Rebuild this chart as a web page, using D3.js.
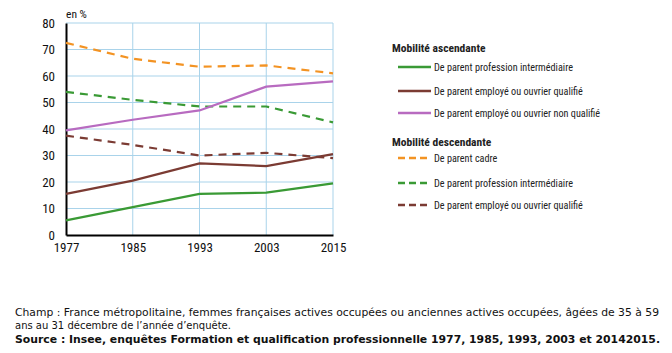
<!DOCTYPE html>
<html>
<head>
<meta charset="utf-8">
<script src="https://cdn.jsdelivr.net/npm/d3@7"></script>
<style>
  body { margin: 0; background: #fff; }
  svg { display: block; }
</style>
</head>
<body>
<div id="chart"></div>
<script>
// data
var years = ["1977", "1985", "1993", "2003", "2015"];
var yTicks = [0, 10, 20, 30, 40, 50, 60, 70, 80];

var ascInter = [5.5, 10.5, 15.5, 16, 19.5];
var ascEmpQual = [15.5, 20.5, 27, 26, 30.5];
var ascEmpNonQual = [39.5, 43.5, 47, 56, 58];
var descCadre = [72.5, 66.5, 63.5, 64, 61];
var descInter = [54, 51, 48.5, 48.5, 42.5];
var descEmpQual = [37.5, 34, 30, 31, 29];

var groups = [
    {title: "Mobilité ascendante", series: [
        {name: "De parent profession intermédiaire", values: ascInter, color: "#3a9a35", dash: null},
        {name: "De parent employé ou ouvrier qualifié", values: ascEmpQual, color: "#7b3b33", dash: null},
        {name: "De parent employé ou ouvrier non qualifié", values: ascEmpNonQual, color: "#b86bc0", dash: null}
    ]},
    {title: "Mobilité descendante", series: [
        {name: "De parent cadre", values: descCadre, color: "#f39323", dash: "8,6"},
        {name: "De parent profession intermédiaire", values: descInter, color: "#3a9a35", dash: "8,6"},
        {name: "De parent employé ou ouvrier qualifié", values: descEmpQual, color: "#7b3b33", dash: "8,6"}
    ]}
];

var narrow = "'Liberation Sans Narrow', 'Arial Narrow', 'Roboto Condensed', sans-serif";

var svg = d3.select("#chart").append("svg")
    .attr("width", 672)
    .attr("height", 353);

var x = d3.scalePoint().domain(years).range([66, 333]);
var y = d3.scaleLinear().domain([0, 80]).range([235, 23]);

// grid
var grid = svg.append("g").attr("id", "grid");
grid.selectAll("line.h").data(yTicks.slice(1)).enter()
    .append("line").attr("class", "h")
    .attr("x1", x("1977")).attr("x2", x("2015"))
    .attr("y1", function (d) { return y(d); })
    .attr("y2", function (d) { return y(d); })
    .attr("stroke", "#a9d3ea").attr("stroke-width", 1);
grid.selectAll("line.v").data(years.slice(1)).enter()
    .append("line").attr("class", "v")
    .attr("x1", function (d) { return x(d); })
    .attr("x2", function (d) { return x(d); })
    .attr("y1", y(0)).attr("y2", y(80))
    .attr("stroke", "#a9d3ea").attr("stroke-width", 1);

// axes
var yAxis = d3.axisLeft(y).tickValues(yTicks).tickSize(0).tickPadding(11);
var xAxis = d3.axisBottom(x).tickSize(0).tickPadding(8);

svg.append("g").attr("id", "yAxis")
    .attr("transform", "translate(" + x("1977") + ",0)")
    .call(yAxis)
    .call(function (g) { g.select(".domain").attr("stroke", "#000").attr("stroke-width", 2); })
    .selectAll("text")
    .attr("font-family", narrow).attr("font-size", 13).attr("fill", "#111");

svg.append("g").attr("id", "xAxis")
    .attr("transform", "translate(0," + y(0) + ")")
    .call(xAxis)
    .call(function (g) { g.select(".domain").attr("stroke", "#000").attr("stroke-width", 2); })
    .selectAll("text")
    .attr("font-family", narrow).attr("font-size", 13).attr("fill", "#111");

svg.append("text")
    .attr("x", 66).attr("y", 18)
    .attr("font-family", narrow).attr("font-size", 11.5).attr("fill", "#111")
    .text("en %");

// lines
var line = d3.line()
    .x(function (d, i) { return x(years[i]); })
    .y(function (d) { return y(d); });

var allSeries = groups[1].series.concat(groups[0].series);
svg.append("g").attr("id", "lines")
    .selectAll("path").data(allSeries).enter()
    .append("path")
    .attr("d", function (d) { return line(d.values); })
    .attr("fill", "none")
    .attr("stroke", function (d) { return d.color; })
    .attr("stroke-width", 2.2)
    .attr("stroke-dasharray", function (d) { return d.dash; });

// legend
var legend = svg.append("g").attr("id", "legend");
var rowY = [[67, 91, 113], [158, 183, 205]];
var titleY = [52, 146];
groups.forEach(function (grp, gi) {
    legend.append("text")
        .attr("x", 392).attr("y", titleY[gi])
        .attr("font-family", narrow).attr("font-size", 11.5)
        .attr("font-weight", "bold").attr("fill", "#222")
        .text(grp.title);
    grp.series.forEach(function (s, si) {
        var ry = rowY[gi][si];
        legend.append("line")
            .attr("x1", 398).attr("x2", 431)
            .attr("y1", ry).attr("y2", ry)
            .attr("stroke", s.color).attr("stroke-width", 2.5)
            .attr("stroke-dasharray", s.dash ? "7,4" : null);
        legend.append("text")
            .attr("x", 434).attr("y", ry + 4)
            .attr("font-family", narrow).attr("font-size", 10.2)
            .attr("fill", "#222")
            .text(s.name);
    });
});

// notes
var notes = svg.append("g").attr("id", "notes")
    .attr("font-family", "'DejaVu Sans', Verdana, sans-serif").attr("font-size", 10).attr("fill", "#111");
notes.append("text").attr("x", 15).attr("y", 316)
    .attr("textLength", 644).attr("lengthAdjust", "spacingAndGlyphs")
    .text("Champ : France métropolitaine, femmes françaises actives occupées ou anciennes actives occupées, âgées de 35 à 59");
notes.append("text").attr("x", 15).attr("y", 329)
    .text("ans au 31 décembre de l’année d’enquête.");
notes.append("text").attr("x", 15).attr("y", 343)
    .attr("font-weight", "bold")
    .attr("textLength", 645).attr("lengthAdjust", "spacingAndGlyphs")
    .text("Source : Insee, enquêtes Formation et qualification professionnelle 1977, 1985, 1993, 2003 et 20142015.");
</script>
</body>
</html>
